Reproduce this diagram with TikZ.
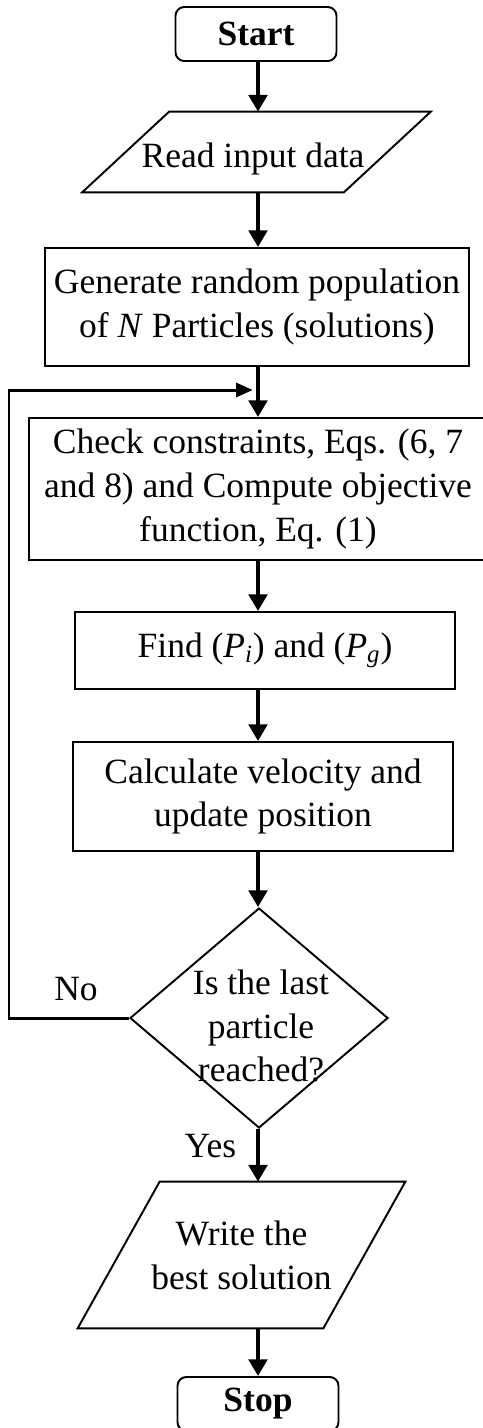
\documentclass[tikz,border=0pt]{standalone}
\usepackage{fontspec}
\setmainfont{Liberation Serif}
\usetikzlibrary{shapes.geometric,arrows.meta}
\def\para#1#2{\draw[line width=1.1pt] ([xshift=-#2]#1.south west) -- ([xshift=-#2]#1.south east) -- ([xshift=#2]#1.north east) -- ([xshift=#2]#1.north west) -- cycle;}
\begin{document}
\begin{tikzpicture}[x=0.02cm,y=-0.02cm,
		every node/.style={font=\fontsize{20.2}{24.9}\selectfont,align=center},
		term/.style={draw,line width=1.1pt,rounded corners=5pt,minimum width=161*0.02cm,minimum height=54*0.02cm,inner sep=0pt},
		proc/.style={draw,line width=1.1pt,inner sep=0pt},
		io/.style={inner sep=0pt},
		decision/.style={draw,line width=1.1pt,diamond,inner sep=0pt,minimum width=258*0.02cm,minimum height=220*0.02cm},
		arr/.style={-{Stealth[inset=0pt,length=9.5pt,width=10.5pt]},line width=2.2pt}]
			\useasboundingbox (0,0) rectangle (483,1428);
			\coordinate (spine) at (258,0);
			\coordinate (lft) at (9,0);
			\coordinate (joint) at (258,390);
			% boxes
			\node[term] (start) at (256,34) {\textbf{Start}};
			\node[io,minimum width=261*0.02cm,minimum height=80*0.02cm] (read) at (256.5,152) {};
			\para{read}{0.87cm}
			\node (readtext) at (253,159) {Read input data};
			\node[proc,minimum width=424*0.02cm,minimum height=118*0.02cm] (gen) at (257,307) {Generate random population\\of \textit{N} Particles (solutions)};
			\node[proc,minimum width=458*0.02cm,minimum height=142*0.02cm] (check) at (258,489) {Check constraints, Eqs. (6, 7\\and 8) and Compute objective\\function, Eq. (1)};
			\node[proc,minimum width=380*0.02cm,minimum height=77*0.02cm] (find) at (265,650.5) {Find (\textit{P}\textsubscript{\textit{i}}) and (\textit{P}\textsubscript{\textit{g}})};
			\node[proc,minimum width=380*0.02cm,minimum height=109*0.02cm] (calc) at (263,796.5) {Calculate velocity and\\update position};
			\node[decision] (dec) at (259,1018) {};
			\node (dectext) at (261,1026) {Is the last\\particle\\reached?};
			\node[io,minimum width=245*0.02cm,minimum height=146*0.02cm] (write) at (241.5,1255) {Write the\\best solution};
			\para{write}{0.82cm}
			\node[term] (stop) at (258,1404) {\textbf{Stop}};
			% connectors
			\draw[arr] (start.south -| spine) -- (read.north -| spine);
			\draw[arr] (read.south -| spine) -- (gen.north -| spine);
			\draw[arr] (gen.south -| spine) -- (check.north -| spine);
			\draw[arr] (check.south -| spine) -- (find.north -| spine);
			\draw[arr] (find.south -| spine) -- (calc.north -| spine);
			\draw[arr] (calc.south -| spine) -- (dec.north -| spine);
			\draw[arr] (dec.south -| spine) -- (write.north -| spine) node[pos=0.33,left=8pt] (yes) {Yes};
			\draw[arr] (write.south -| spine) -- (stop.north -| spine);
			\draw[line width=1.7pt,-{Stealth[inset=0pt,length=9.5pt,width=8pt]},shorten >=3pt] (dec.west) -- (dec.west -| lft) |- (joint);
			\node (no) at (76,989) {No};
		\end{tikzpicture}
\end{document}
